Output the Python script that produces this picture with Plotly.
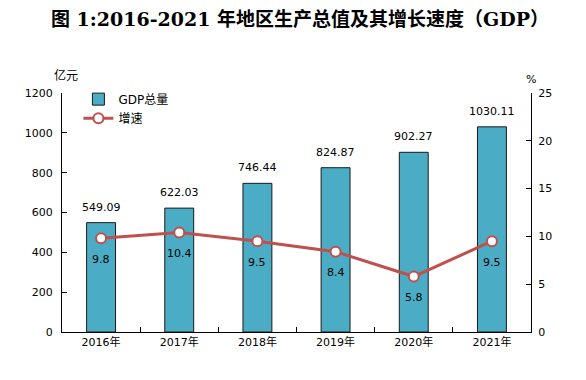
import plotly.graph_objects as go

years = ["2016年", "2017年", "2018年", "2019年", "2020年", "2021年"]
gdp = [549.09, 622.03, 746.44, 824.87, 902.27, 1030.11]
growth = [9.8, 10.4, 9.5, 8.4, 5.8, 9.5]
left_ticks = [0, 200, 400, 600, 800, 1000, 1200]
right_ticks = [0, 5, 10, 15, 20, 25]

font_main = "DejaVu Sans, Noto Sans CJK SC"

fig = go.Figure()
fig.add_trace(go.Bar(
    x=years, y=gdp, name="GDP总量",
    marker=dict(color="#4BACC6", line=dict(color="#1a1a1a", width=1)),
    width=0.37,
))
fig.add_trace(go.Scatter(
    x=years, y=growth, name="增速", yaxis="y2",
    mode="lines+markers",
    line=dict(color="#C0504D", width=3),
    marker=dict(symbol="circle", size=10, color="white", line=dict(color="#C0504D", width=2)),
))

annotations = []
for yr, v in zip(years, gdp):
    annotations.append(dict(x=yr, y=v, xref="x", yref="y", text=f"{v:.2f}",
                            showarrow=False, yanchor="bottom", yshift=7,
                            font=dict(size=11, color="#000000", family=font_main)))
for yr, v in zip(years, growth):
    annotations.append(dict(x=yr, y=v, xref="x", yref="y2", text=str(v),
                            showarrow=False, yanchor="middle", yshift=-21,
                            font=dict(size=11, color="#000000", family=font_main)))
annotations += [
    dict(text="亿元", xref="paper", yref="paper", x=0.0, y=1.0, yshift=8, xshift=4,
         xanchor="center", yanchor="bottom", showarrow=False,
         font=dict(size=12, family="Noto Sans CJK SC")),
    dict(text="%", xref="paper", yref="paper", x=1.0, y=1.0, yshift=5,
         xanchor="center", yanchor="bottom", showarrow=False, font=dict(size=11)),
]

fig.update_layout(
    width=586, height=380,
    margin=dict(l=62, r=55, t=93, b=48),
    paper_bgcolor="white", plot_bgcolor="white",
    title=dict(text="<b>图 1:2016-2021 年地区生产总值及其增长速度（GDP）</b>",
               x=0.512, xanchor="center", y=0.95, yanchor="middle",
               font=dict(size=19, color="#000000", family="DejaVu Serif, Noto Sans CJK SC")),
    font=dict(family=font_main, size=11, color="#000000"),
    showlegend=True,
    legend=dict(x=0.035, y=1.035, xanchor="left", yanchor="top",
                bgcolor="rgba(0,0,0,0)", font=dict(size=12, family=font_main),
                itemwidth=30, tracegroupgap=2),
    xaxis=dict(showline=True, linecolor="#000000", linewidth=1.2,
               ticks="inside", tickson="boundaries", ticklen=5, tickcolor="#000000",
               showgrid=False, tickfont=dict(size=11), automargin=False),
    yaxis=dict(range=[0, 1200], tickvals=left_ticks, showline=True, linecolor="#000000",
               linewidth=1.2, ticks="inside", ticklen=5, tickcolor="#000000",
               showgrid=False, zeroline=False, tickfont=dict(size=11), automargin=False,
               ticklabelstandoff=6),
    yaxis2=dict(range=[0, 25], tickvals=right_ticks, overlaying="y", side="right",
                showline=True, linecolor="#000000", linewidth=1.2, ticks="inside",
                ticklen=5, tickcolor="#000000", showgrid=False, zeroline=False,
                tickfont=dict(size=11), automargin=False, ticklabelstandoff=4),
    annotations=annotations,
)

fig.write_html("out.html", config={"displayModeBar": False},
               post_script="document.body.style.margin='0';")
